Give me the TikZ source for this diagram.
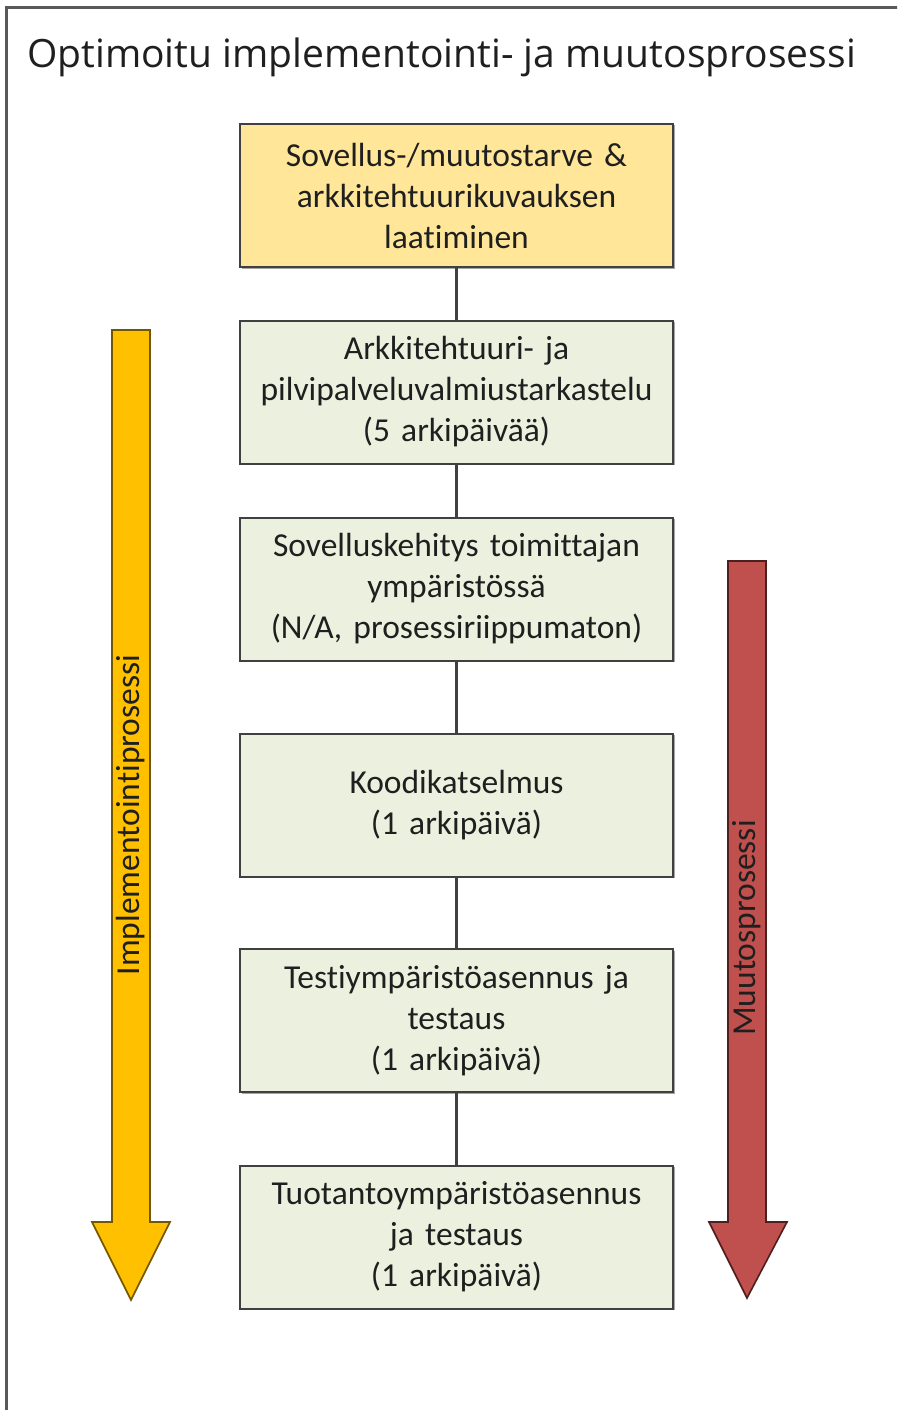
\documentclass[tikz,border=0pt]{standalone}
\usepackage{fontspec}
\setmainfont{Carlito}[Ligatures=NoCommon]
\newfontfamily\titlefont{Open Sans}
\usetikzlibrary{shadows}
\definecolor{boxyellow}{HTML}{FFE699}
\definecolor{boxgreen}{HTML}{EBF1DE}
\definecolor{arrowyellow}{HTML}{FFC000}
\definecolor{arrowred}{HTML}{C0504D}
\definecolor{edgegray}{HTML}{404040}
\tikzset{
  stepbox/.style={draw=edgegray, line width=2pt, minimum width=433pt, minimum height=143pt,
    text width=425pt, align=center, inner sep=0pt, text=black!88,
    font=\fontsize{33.5}{41}\selectfont,
    drop shadow={shadow xshift=1.5pt, shadow yshift=-1.5pt, opacity=0.35, fill=black}},
  link/.style={draw=edgegray, line width=2.2pt},
  bigarrow/.style={line width=1.6pt, line join=miter},
  arrowlabel/.style={rotate=90, font=\fontsize{33.5}{36}\selectfont, text=black!88, inner sep=0pt}
}
\begin{document}
\begin{tikzpicture}[x=1pt,y=-1pt]
\useasboundingbox (0,0) rectangle (897,1410);
\begin{scope}
\clip (0,0) rectangle (897,1410);
\draw[draw=black!65, line width=3pt] (6,8) rectangle (920,1440);
\end{scope}
\node[anchor=base west, font=\titlefont\fontsize{39}{44}\selectfont, text=black!88, inner sep=0pt] (title) at (27,68) {Optimoitu implementointi- ja muutosprosessi};

% arrows
\draw[bigarrow, fill=arrowyellow, draw=arrowyellow!45!black]
  (112,330) -- (150,330) -- (150,1222) -- (170,1222) -- (131,1300) -- (92,1222) -- (112,1222) -- cycle;
\node[arrowlabel] (impl) at (131,815) {Implementointiprosessi};
\draw[bigarrow, fill=arrowred, draw=arrowred!40!black]
  (728,561) -- (766,561) -- (766,1222) -- (787,1222) -- (747,1298) -- (709,1222) -- (728,1222) -- cycle;
\node[arrowlabel] (muutos) at (747,928) {Muutosprosessi};

% boxes
\node[stepbox, fill=boxyellow] (b1) at (456.5,195.5) {Sovellus-/muutostarve \&\\arkkitehtuurikuvauksen\\laatiminen};
\node[stepbox, fill=boxgreen] (b2) at (456.5,392) {Arkkitehtuuri- ja\\pilvipalveluvalmiustarkastelu\\(5 arkipäivää)};
\node[stepbox, fill=boxgreen] (b3) at (456.5,589) {Sovelluskehitys toimittajan\\ympäristössä\\(N/A, prosessiriippumaton)};
\node[stepbox, fill=boxgreen] (b4) at (456.5,805) {Koodikatselmus\\(1 arkipäivä)};
\node[stepbox, fill=boxgreen] (b5) at (456.5,1020.5) {Testiympäristöasennus ja\\testaus\\(1 arkipäivä)};
\node[stepbox, fill=boxgreen] (b6) at (456.5,1237) {Tuotantoympäristöasennus\\ja testaus\\(1 arkipäivä)};

\draw[link] (b1.south) -- (b2.north);
\draw[link] (b2.south) -- (b3.north);
\draw[link] (b3.south) -- (b4.north);
\draw[link] (b4.south) -- (b5.north);
\draw[link] (b5.south) -- (b6.north);
\end{tikzpicture}
\end{document}
